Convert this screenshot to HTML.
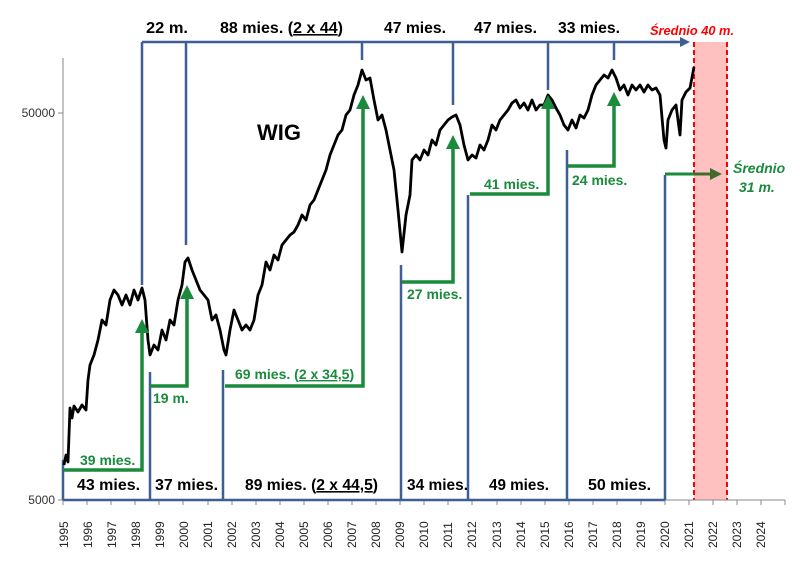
<!DOCTYPE html>
<html><head><meta charset="utf-8"><style>
body{margin:0;background:#fff}
svg text{font-family:"Liberation Sans",sans-serif}
.b{font-weight:bold;font-size:16px;fill:#000}
.g{font-weight:bold;font-size:14px;fill:#1a8a3c}
</style></head><body>
<svg width="800" height="559" viewBox="0 0 800 559" xmlns="http://www.w3.org/2000/svg">
<defs>
<marker id="ag" markerWidth="4" markerHeight="4" refX="2" refY="2" orient="auto" markerUnits="strokeWidth"><path d="M0,0L4,2L0,4z" fill="#1a8a3c"/></marker>
<marker id="ab" markerWidth="4" markerHeight="4" refX="2" refY="2" orient="auto" markerUnits="strokeWidth"><path d="M0,0L4,2L0,4z" fill="#3e5f93"/></marker>
<marker id="ad" markerWidth="4" markerHeight="4" refX="2" refY="2" orient="auto" markerUnits="strokeWidth"><path d="M0,0L4,2L0,4z" fill="#3f6b2e"/></marker>
</defs>
<rect x="694" y="42" width="33" height="458" fill="#ffc0c0"/>
<line x1="694" y1="42" x2="694" y2="500" stroke="#f00" stroke-width="2" stroke-dasharray="5,3"/>
<line x1="727" y1="42" x2="727" y2="500" stroke="#f00" stroke-width="2" stroke-dasharray="5,3"/>
<line x1="63" y1="58" x2="63" y2="500" stroke="#888"/>
<line x1="63" y1="500" x2="785" y2="500" stroke="#888"/>
<line x1="58" y1="113" x2="63" y2="113" stroke="#888"/>
<line x1="58" y1="500" x2="63" y2="500" stroke="#888"/>
<text x="55" y="117" font-size="12" text-anchor="end" fill="#333">50000</text>
<text x="55" y="504" font-size="12" text-anchor="end" fill="#333">5000</text>
<g stroke="#888">
<path d="M63,500v5M87,500v5M111,500v5M135,500v5M159,500v5M183,500v5M208,500v5M232,500v5M256,500v5M280,500v5M304,500v5M328,500v5M352,500v5M376,500v5M400,500v5M424,500v5M448,500v5M472,500v5M497,500v5M521,500v5M545,500v5M569,500v5M593,500v5M617,500v5M641,500v5M665,500v5M689,500v5M713,500v5M737,500v5M761,500v5M785,500v5"/>
</g>
<g font-size="12" fill="#222">
<text transform="translate(68,548) rotate(-90)">1995</text><text transform="translate(92,548) rotate(-90)">1996</text><text transform="translate(116,548) rotate(-90)">1997</text><text transform="translate(140,548) rotate(-90)">1998</text><text transform="translate(164,548) rotate(-90)">1999</text><text transform="translate(188,548) rotate(-90)">2000</text><text transform="translate(212,548) rotate(-90)">2001</text><text transform="translate(236,548) rotate(-90)">2002</text><text transform="translate(260,548) rotate(-90)">2003</text><text transform="translate(284,548) rotate(-90)">2004</text><text transform="translate(308,548) rotate(-90)">2005</text><text transform="translate(332,548) rotate(-90)">2006</text><text transform="translate(356,548) rotate(-90)">2007</text><text transform="translate(380,548) rotate(-90)">2008</text><text transform="translate(404,548) rotate(-90)">2009</text><text transform="translate(428,548) rotate(-90)">2010</text><text transform="translate(452,548) rotate(-90)">2011</text><text transform="translate(476,548) rotate(-90)">2012</text><text transform="translate(501,548) rotate(-90)">2013</text><text transform="translate(525,548) rotate(-90)">2014</text><text transform="translate(549,548) rotate(-90)">2015</text><text transform="translate(573,548) rotate(-90)">2016</text><text transform="translate(597,548) rotate(-90)">2017</text><text transform="translate(621,548) rotate(-90)">2018</text><text transform="translate(645,548) rotate(-90)">2019</text><text transform="translate(669,548) rotate(-90)">2020</text><text transform="translate(693,548) rotate(-90)">2021</text><text transform="translate(717,548) rotate(-90)">2022</text><text transform="translate(741,548) rotate(-90)">2023</text><text transform="translate(765,548) rotate(-90)">2024</text>
</g>
<g stroke="#3e5f93" stroke-width="2.5" fill="none">
<path d="M63,500H665M63,500V460M150,500V372M223,500V370M401,500V265M468,500V195M567,500V150M665,500V175"/>
<path d="M142,285V42M186,245V42M362,60V42M453,105V42M548,90V42M614,60V42"/>
<line x1="142" y1="42" x2="685" y2="42" marker-end="url(#ab)"/>
</g>
<polyline fill="none" stroke="#000" stroke-width="2.8" stroke-linejoin="round" points="64,465 66,455 68,462 70,408 72,418 74,406 78,412 82,405 86,410 88,380 90,365 94,355 98,340 102,320 106,325 110,300 114,290 118,295 122,305 126,295 130,305 134,290 138,300 142,288 145,300 148,340 150,355 154,345 158,350 162,330 166,340 170,320 174,325 178,300 182,285 185,262 188,258 192,270 196,280 200,290 204,295 208,300 212,320 216,315 220,330 224,350 226,355 230,330 234,310 238,320 242,330 246,325 250,330 254,320 258,295 262,285 266,262 270,270 274,255 278,260 282,245 286,240 290,235 294,232 298,225 302,215 306,220 310,205 314,200 318,190 322,180 326,170 330,155 334,145 338,135 342,130 346,115 350,110 354,95 358,85 362,70 366,80 370,78 374,100 378,120 382,115 386,130 390,150 394,170 398,210 402,252 406,215 410,195 412,160 416,155 420,160 424,150 428,155 432,140 436,145 440,130 444,125 448,120 452,117 456,115 460,125 464,145 468,160 472,155 476,158 480,145 484,150 488,140 492,125 496,130 500,120 504,115 508,110 512,103 516,100 520,108 524,103 528,110 532,100 536,110 540,105 544,105 548,95 552,100 556,108 560,115 564,125 568,130 572,120 576,128 580,115 584,118 588,110 592,95 596,85 600,80 604,75 608,78 612,70 616,78 620,90 624,85 628,95 632,85 636,90 640,85 644,92 648,85 652,90 656,88 660,95 664,140 666,148 668,120 672,110 676,105 680,135 682,100 686,92 690,88 694,67"/>
<text x="257" y="140" font-size="22" font-weight="bold">WIG</text>
<g stroke="#1a8a3c" stroke-width="3.5" fill="none">
<polyline points="63,470 142,470 142,326" marker-end="url(#ag)"/>
<polyline points="150,386 187,386 187,292" marker-end="url(#ag)"/>
<polyline points="225,386 363,386 363,102" marker-end="url(#ag)"/>
<polyline points="402,282 453,282 453,142" marker-end="url(#ag)"/>
<polyline points="470,194 548,194 548,102" marker-end="url(#ag)"/>
<polyline points="568,166 614,166 614,99" marker-end="url(#ag)"/>
</g>
<line x1="665" y1="174" x2="716" y2="174" stroke="#1a8a3c" stroke-width="3"/>
<line x1="694" y1="174" x2="716" y2="174" stroke="#3f6b2e" stroke-width="3" marker-end="url(#ad)"/>
<text x="80" y="465" class="g">39 mies.</text>
<text x="153" y="403" class="g">19 m.</text>
<text x="235" y="379" class="g">69 mies. (<tspan text-decoration="underline">2 x 34,5</tspan>)</text>
<text x="407" y="299" class="g">27 mies.</text>
<text x="484" y="189" class="g">41 mies.</text>
<text x="572" y="185" class="g">24 mies.</text>
<text x="733" y="173" class="g" font-style="italic">Średnio</text>
<text x="739" y="192" class="g" font-style="italic">31 m.</text>
<text x="77" y="490" class="b" textLength="63" lengthAdjust="spacingAndGlyphs">43 mies.</text>
<text x="155" y="490" class="b" textLength="63" lengthAdjust="spacingAndGlyphs">37 mies.</text>
<text x="245" y="490" class="b" textLength="133" lengthAdjust="spacingAndGlyphs">89 mies. (<tspan text-decoration="underline">2 x 44,5</tspan>)</text>
<text x="407" y="490" class="b" textLength="61" lengthAdjust="spacingAndGlyphs">34 mies.</text>
<text x="489" y="490" class="b" textLength="60" lengthAdjust="spacingAndGlyphs">49 mies.</text>
<text x="588" y="490" class="b" textLength="63" lengthAdjust="spacingAndGlyphs">50 mies.</text>
<text x="146" y="33" class="b" textLength="42" lengthAdjust="spacingAndGlyphs">22 m.</text>
<text x="220" y="33" class="b" textLength="123" lengthAdjust="spacingAndGlyphs">88 mies. (<tspan text-decoration="underline">2 x 44</tspan>)</text>
<text x="384" y="33" class="b" textLength="62" lengthAdjust="spacingAndGlyphs">47 mies.</text>
<text x="474" y="33" class="b" textLength="63" lengthAdjust="spacingAndGlyphs">47 mies.</text>
<text x="558" y="33" class="b" textLength="62" lengthAdjust="spacingAndGlyphs">33 mies.</text>
<text x="650" y="35" font-size="13" font-weight="bold" font-style="italic" fill="#f00" textLength="84" lengthAdjust="spacingAndGlyphs">Średnio 40 m.</text>
</svg>
</body></html>
